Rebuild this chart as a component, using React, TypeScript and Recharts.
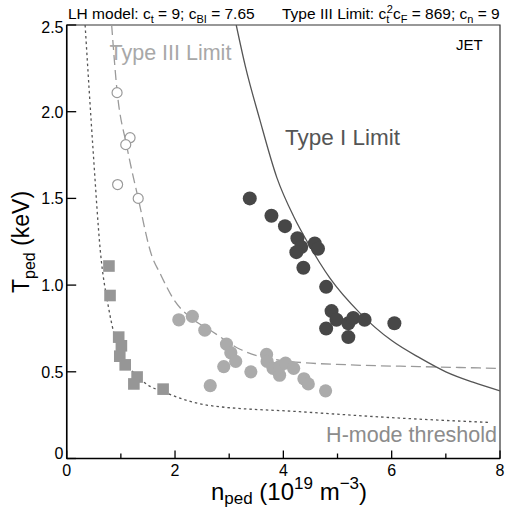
import React from "react";
import {
  ComposedChart,
  Line,
  Scatter,
  XAxis,
  YAxis,
  ReferenceArea,
} from "recharts";

// ---- data (n_ped in 1e19 m^-3, T_ped in keV) ----
const openCircleN = [0.93, 1.17, 1.09, 0.94, 1.32];
const openCircleT = [2.11, 1.85, 1.81, 1.58, 1.5];

const squareN = [0.78, 0.8, 0.96, 1.01, 0.98, 1.08, 1.3, 1.24, 1.78];
const squareT = [1.11, 0.94, 0.7, 0.65, 0.59, 0.54, 0.47, 0.43, 0.4];

const grayN = [2.07, 2.32, 2.55, 2.95, 3.03, 3.12, 2.9, 2.65, 3.4, 3.69, 3.7, 3.81, 3.93, 3.93, 4.04, 4.19, 4.38, 4.46, 4.78];
const grayT = [0.8, 0.82, 0.74, 0.66, 0.61, 0.56, 0.53, 0.42, 0.5, 0.6, 0.56, 0.52, 0.48, 0.53, 0.55, 0.52, 0.46, 0.43, 0.39];

const darkN = [3.38, 3.78, 4.03, 4.26, 4.33, 4.24, 4.58, 4.64, 4.37, 4.79, 4.89, 4.98, 4.79, 5.2, 5.29, 5.2, 5.5, 6.05];
const darkT = [1.5, 1.4, 1.34, 1.27, 1.22, 1.19, 1.24, 1.21, 1.1, 0.99, 0.85, 0.8, 0.75, 0.78, 0.81, 0.7, 0.8, 0.78];

const typeIN = [3.13, 3.3, 3.56, 3.88, 4.2, 4.46, 4.86, 5.41, 6.0, 6.52, 7.0, 7.5, 8.0];
const typeIT = [2.5, 2.26, 1.96, 1.62, 1.39, 1.24, 1.04, 0.84, 0.68, 0.58, 0.5, 0.44, 0.39];

const typeIIIN = [0.83, 0.93, 1.11, 1.32, 1.57, 1.72, 1.97, 2.34, 2.65, 3.2, 4.12, 5.22, 6.5, 7.95];
const typeIIIT = [2.5, 2.12, 1.8, 1.5, 1.17, 1.07, 0.92, 0.8, 0.74, 0.63, 0.56, 0.54, 0.53, 0.52];

const hModeN = [0.34, 0.49, 0.62, 0.77, 0.89, 1.11, 1.41, 1.85, 2.65, 4.3, 6.15, 7.81];
const hModeT = [2.5, 1.765, 1.2, 0.875, 0.7, 0.55, 0.444, 0.377, 0.305, 0.27, 0.233, 0.208];

const xTicks = [0, 1, 2, 3, 4, 5, 6, 7, 8];
const yTicks = [0, 0.5, 1.0, 1.5, 2.0, 2.5];
const yTickLabels = ["0", "0.5", "1.0", "1.5", "2.0", "2.5"];

const zip = (ns: number[], ts: number[]) => ns.map((n, i) => ({ n, T: ts[i] }));

const openData = zip(openCircleN, openCircleT);
const squareData = zip(squareN, squareT);
const grayData = zip(grayN, grayT);
const darkData = zip(darkN, darkT);
const typeIData = zip(typeIN, typeIT);
const typeIIIData = zip(typeIIIN, typeIIIT);
const hModeData = zip(hModeN, hModeT);

const FONT = "'Liberation Sans', Arial, Helvetica, sans-serif";
const W = 505;
const H = 511;
const LEFT = 66.7;
const TOP = 25;
const RIGHT = 500;
const BOTTOM = 458.5;

const XTick = (props: any) => {
  const { x, payload } = props;
  const v = payload.value;
  const major = v % 2 === 0;
  return (
    <g>
      <line x1={x} x2={x} y1={BOTTOM} y2={BOTTOM - (major ? 8 : 5)} stroke="#000" strokeWidth={1.3} />
      {major && (
        <text x={x} y={476} textAnchor="middle" fontSize={16} fontFamily={FONT} fill="#000">
          {v}
        </text>
      )}
    </g>
  );
};

const YTick = (props: any) => {
  const { y, payload } = props;
  const v = payload.value;
  const idx = yTicks.indexOf(v);
  const label = idx >= 0 ? yTickLabels[idx] : String(v);
  const dy = v === 0 ? -5 : v === 2.5 ? 2 : 0;
  return (
    <g>
      <line x1={LEFT} x2={LEFT + 9.5} y1={y} y2={y} stroke="#000" strokeWidth={1.3} />
      <text x={63.5} y={y + 5.8 + dy} textAnchor="end" fontSize={16} fontFamily={FONT} fill="#000">
        {label}
      </text>
    </g>
  );
};

const DarkDot = (p: any) => <circle cx={p.cx} cy={p.cy} r={7} fill="#474747" />;
const GrayDot = (p: any) => <circle cx={p.cx} cy={p.cy} r={6.6} fill="#ababab" />;
const SquareDot = (p: any) => <rect x={p.cx - 5.8} y={p.cy - 5.8} width={11.6} height={11.6} fill="#969696" />;
const OpenDot = (p: any) => <circle cx={p.cx} cy={p.cy} r={5} fill="#fff" stroke="#9a9a9a" strokeWidth={1.2} />;

export default function App() {
  return (
    <div style={{ position: "absolute", left: 0, top: 0, width: W, height: H, background: "#fff" }}>
      <ComposedChart
        width={W}
        height={H}
        margin={{ top: TOP, right: W - RIGHT, bottom: 22.5, left: LEFT - 30 }}
      >
        <XAxis
          type="number"
          dataKey="n"
          domain={[0, 8]}
          ticks={xTicks}
          interval={0}
          allowDataOverflow
          height={30}
          axisLine={{ stroke: "#000", strokeWidth: 1.5 }}
          tickLine={false}
          tick={<XTick />}
        />
        <YAxis
          type="number"
          dataKey="T"
          domain={[0, 2.5]}
          ticks={yTicks}
          interval={0}
          allowDataOverflow
          width={30}
          axisLine={{ stroke: "#000", strokeWidth: 1.5 }}
          tickLine={false}
          tick={<YTick />}
        />
        <ReferenceArea x1={0} x2={8} y1={0} y2={2.5} fill="none" stroke="#333" strokeWidth={1.2} ifOverflow="visible" />
        <Line data={hModeData} dataKey="T" type="monotone" stroke="#555" strokeWidth={1.3} strokeDasharray="2.5 3" dot={false} isAnimationActive={false} />
        <Line data={typeIIIData} dataKey="T" type="monotone" stroke="#9a9a9a" strokeWidth={1.3} strokeDasharray="10 5" dot={false} isAnimationActive={false} />
        <Line data={typeIData} dataKey="T" type="monotone" stroke="#555" strokeWidth={1.3} dot={false} isAnimationActive={false} />
        <Scatter data={squareData} dataKey="T" shape={<SquareDot />} isAnimationActive={false} />
        <Scatter data={grayData} dataKey="T" shape={<GrayDot />} isAnimationActive={false} />
        <Scatter data={darkData} dataKey="T" shape={<DarkDot />} isAnimationActive={false} />
        <Scatter data={openData} dataKey="T" shape={<OpenDot />} isAnimationActive={false} />
      </ComposedChart>
      <svg
        width={W}
        height={H}
        style={{ position: "absolute", left: 0, top: 0, pointerEvents: "none" }}
        fontFamily={FONT}
      >
        <text x={68} y={19} fontSize={15.5} fill="#000">
          LH model: c<tspan fontSize={11} dy={4}>t</tspan>
          <tspan dy={-4}> = 9; c</tspan>
          <tspan fontSize={11} dy={4}>BI</tspan>
          <tspan dy={-4}> = 7.65</tspan>
        </text>
        <text x={282} y={19} fontSize={15.5} fill="#000">
          Type III Limit: c<tspan fontSize={11} dy={4}>t</tspan>
          <tspan fontSize={11} dx={-2.5} dy={-10}>2</tspan>
          <tspan dy={6}>c</tspan>
          <tspan fontSize={11} dy={4}>F</tspan>
          <tspan dy={-4}> = 869; c</tspan>
          <tspan fontSize={11} dy={4}>n</tspan>
          <tspan dy={-4}> = 9</tspan>
        </text>
        <text x={456} y={50} fontSize={15} fill="#000">JET</text>
        <text x={109.5} y={60} fontSize={21.5} fill="#a8a8a8">Type III Limit</text>
        <text x={285} y={145} fontSize={22.5} fill="#555">Type I Limit</text>
        <text x={497} y={442} fontSize={21.5} fill="#8c8c8c" textAnchor="end">H-mode threshold</text>
        <text x={289} y={500} fontSize={24} fill="#000" textAnchor="middle">
          n<tspan fontSize={17} dy={4}>ped</tspan>
          <tspan dy={-4}> (10</tspan>
          <tspan fontSize={17} dy={-11}>19</tspan>
          <tspan dy={11}> m</tspan>
          <tspan fontSize={17} dy={-11}>−3</tspan>
          <tspan dy={11}>)</tspan>
        </text>
        <text
          x={0}
          y={0}
          fontSize={23}
          fill="#000"
          textAnchor="middle"
          transform="translate(28.5,242) rotate(-90)"
        >
          T<tspan fontSize={16} dy={6}>ped</tspan>
          <tspan dy={-6}> (keV)</tspan>
        </text>
      </svg>
    </div>
  );
}
